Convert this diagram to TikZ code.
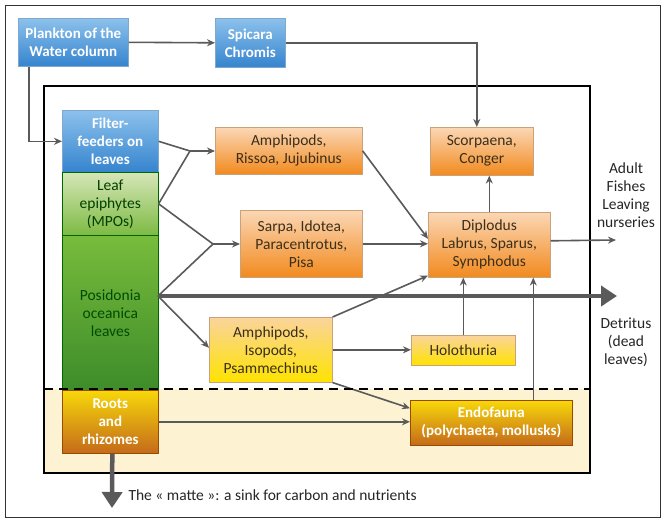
\documentclass[tikz,border=0pt]{standalone}
\usepackage{fontspec}
\setmainfont{Carlito}
\usetikzlibrary{arrows.meta}
\definecolor{lineg}{HTML}{5A5A5A}
\definecolor{bluet}{HTML}{8CC1EC}
\definecolor{blueb}{HTML}{3584CE}
\definecolor{blueline}{HTML}{7FA8CC}
\definecolor{leaft}{HTML}{D6E6B8}
\definecolor{leafb}{HTML}{7DBA43}
\definecolor{posit}{HTML}{78BC3C}
\definecolor{posib}{HTML}{3D8C2A}
\definecolor{roott}{HTML}{F7D80A}
\definecolor{rootb}{HTML}{C46A1A}
\definecolor{orat}{HTML}{FBD7B5}
\definecolor{orab}{HTML}{F28A1E}
\definecolor{yelt}{HTML}{FAD49C}
\definecolor{yelb}{HTML}{FFE300}
\definecolor{sandfill}{HTML}{FDF3D3}
\definecolor{darktxt}{HTML}{3B2F1A}
\definecolor{boxline}{HTML}{C9A27A}
\tikzset{
  txtfont/.style={font=\fontsize{15.5}{18}\selectfont},
  boldfont/.style={font=\bfseries\fontsize{15}{18}\selectfont},
  box/.style={draw=#1, line width=0.6pt, anchor=north west, align=center, inner sep=1pt, txtfont},
  bluebox/.style={box=blueline, top color=bluet, bottom color=blueb, text=white, boldfont},
  leafbox/.style={box=green!40!black, top color=leaft, bottom color=leafb, text=black!75!green},
  posibox/.style={box=green!40!black, top color=posit, bottom color=posib, text=green!30!black},
  rootbox/.style={box=orange!60!black, top color=roott, bottom color=rootb, text=white, boldfont},
  orabox/.style={box=boxline, top color=orat, bottom color=orab, text=darktxt},
  yelbox/.style={box=boxline, top color=yelt, bottom color=yelb, text=darktxt},
  endobox/.style={box=orange!60!black, top color=roott, bottom color=rootb, text=white, boldfont},
  conn/.style={draw=lineg, line width=1.6pt, -{Stealth[length=8pt,width=7pt]}},
  plain/.style={draw=lineg, line width=1.6pt},
  bigarrow/.style={draw=lineg, line width=4.5pt, -{Triangle[length=16pt,width=20pt]}},
  lbl/.style={align=center, txtfont, text=black!85},
}
\begin{document}
\begin{tikzpicture}[x=1pt,y=-1pt]
\useasboundingbox (0,0) rectangle (665,522);
\fill[white] (0,0) rectangle (665,522);
\draw[black!80, line width=0.8pt] (5,5) rectangle (660,517);
% inner frame
\fill[sandfill] (44,389) rectangle (590,473);
\draw[black, line width=2.4pt] (44,86) rectangle (590,473);

% nodes
\node[bluebox, minimum width=110, minimum height=48] (plank) at (18,18) {Plankton of the\\Water column};
\node[bluebox, minimum width=70, minimum height=49] (spic) at (215,18) {Spicara\\Chromis};
\node[bluebox, minimum width=96, minimum height=62] (filt) at (62,110) {Filter-\\feeders on\\leaves};
\node[leafbox, minimum width=96, minimum height=63] (leaf) at (62,172) {Leaf\\epiphytes\\(MPOs)};
\node[posibox, minimum width=96, minimum height=155] (posi) at (62,235) {Posidonia\\oceanica\\leaves};
\node[rootbox, minimum width=96, minimum height=63] (roots) at (62,390) {Roots\\and\\rhizomes};
\node[orabox, minimum width=147, minimum height=47] (amph1) at (215,127) {Amphipods,\\Rissoa, Jujubinus};
\node[orabox, minimum width=122, minimum height=67] (sarpa) at (240,210) {Sarpa, Idotea,\\Paracentrotus,\\Pisa};
\node[orabox, minimum width=103, minimum height=48] (scorp) at (430,127) {Scorpaena,\\Conger};
\node[orabox, minimum width=122, minimum height=65] (dipl) at (428,212) {Diplodus\\Labrus, Sparus,\\Symphodus};
\node[yelbox, minimum width=123, minimum height=65] (amph2) at (209,317) {Amphipods,\\Isopods,\\Psammechinus};
\node[yelbox, minimum width=104, minimum height=30] (holo) at (411,335) {Holothuria};
\node[endobox, minimum width=162, minimum height=45] (endo) at (410,400) {Endofauna\\(polychaeta, mollusks)};

% labels
\node[lbl] (adult) at (626,195) {Adult\\Fishes\\Leaving\\nurseries};
\node[lbl] (detr) at (626,342) {Detritus\\(dead\\leaves)};
\node[lbl, anchor=west] (matte) at (125,495) {The « matte »: a sink for carbon and nutrients};

% coordinates
\coordinate (j1) at (190,151);
\coordinate (j2) at (213,244);
\coordinate (pz) at (158,296);
\coordinate (dtip) at (617,296);
\coordinate (atip) at (616,240);
\coordinate (mtip) at (112,508);

% connectors
\draw[conn] (plank.east) -- (spic.west);
\draw[conn] (spic.east) -| ([xshift=-5pt]scorp.north);
\draw[conn] ([xshift=11pt]plank.south west) |- (filt.west);
\draw[plain] (filt.east) -- (j1);
\draw[plain] (leaf.east) -- (j1);
\draw[conn] (j1) -- (j1 -| amph1.west);
\draw[plain] (leaf.east) -- (j2);
\draw[plain] (pz) -- (j2);
\draw[conn] (j2) -- (j2 -| sarpa.west);
\draw[bigarrow] (pz) -- (dtip);
\draw[conn] (pz) -- ([yshift=2pt]amph2.west);
\draw[conn] (amph1.east) -- ([yshift=6pt]dipl.west);
\draw[conn] (sarpa.east) -- (sarpa.east -| dipl.west);
\draw[conn] ([yshift=4pt]dipl.east) -- (atip);
\draw[conn] (dipl.north) -- (dipl.north |- scorp.south);
\draw[conn] (amph2.north east) -- ([yshift=2pt]dipl.south west);
\draw[conn] (amph2.east) -- (amph2.east -| holo.west);
\draw[conn] (holo.north) -- (holo.north |- dipl.south);
\draw[conn] ([xshift=42pt]endo.north) -- ([xshift=42pt]endo.north |- dipl.south);
\draw[conn] (amph2.south east) -- ([yshift=14.5pt]endo.west);
\draw[conn] (roots.east) -- (roots.east -| endo.west);
\draw[bigarrow] ([xshift=2pt]roots.south) -- (mtip);

% dashed separation
\draw[black, line width=2pt, dash pattern=on 9pt off 6pt] (44,389) -- (590,389);
\end{tikzpicture}
\end{document}
